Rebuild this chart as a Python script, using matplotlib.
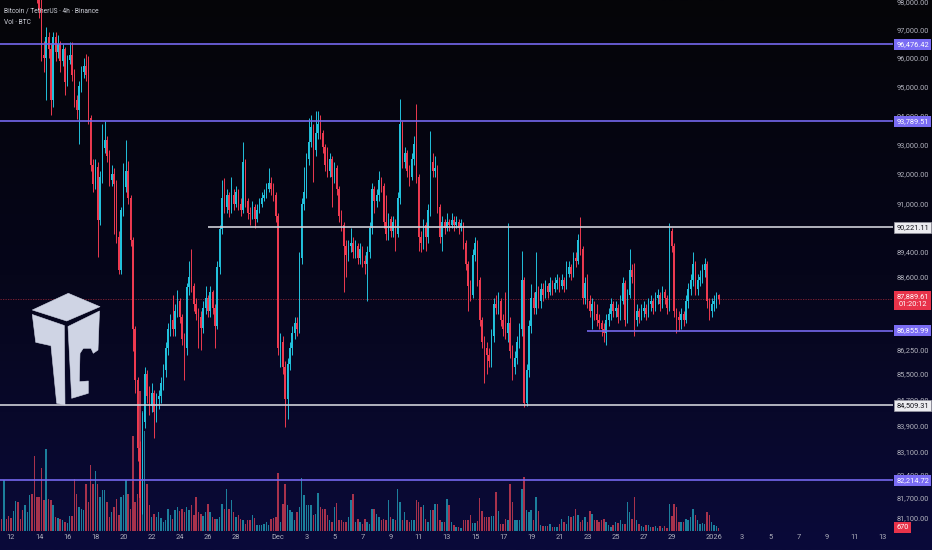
import numpy as np
import pandas as pd
import matplotlib
matplotlib.use("Agg")
import matplotlib.pyplot as plt
import matplotlib.transforms as mtransforms
from matplotlib.patches import Polygon
from matplotlib.ticker import NullLocator
from matplotlib.colors import LinearSegmentedColormap

plt.rcParams['font.family'] = ['Roboto', 'DejaVu Sans']

# ---------------- data (BTCUSDT, 4h candles) ----------------
start_time = "2025-11-11 04:00"
first_open = 105600
closes = [
    105200, 104800, 105300, 104100, 103300, 102900, 103600, 104500, 103900, 102700,
    101700, 101900, 102600, 103000, 101300, 100400, 99300, 97700, 96100, 96000,
    96750, 96300, 94530, 96750, 96200, 96500, 95900, 96300, 95150, 95930,
    96100, 95400, 94530, 94180, 95000, 95500, 95700, 95400, 93900, 92300,
    91650, 92250, 90460, 91900, 92880, 93150, 92600, 91800, 92000, 91650,
    89900, 88800, 90790, 91550, 92100, 91200, 89800, 86900, 85300, 83200,
    81700, 84000, 85500, 84800, 84500, 84900, 84300, 84700, 84800, 85200,
    85600, 86300, 86900, 87200, 86900, 87500, 87800, 87300, 86600, 86300,
    88250, 88600, 88300, 87700, 87400, 87300, 86950, 87600, 87900, 87500,
    88100, 87600, 87000, 88900, 90150, 91200, 90900, 91300, 90800, 91300,
    91000, 91400, 91000, 90800, 92400, 91100, 90700, 90650, 90900, 90500,
    90800, 91000, 91200, 91300, 91500, 91700, 91500, 91300, 90600, 86300,
    86500, 85700, 84700, 85800, 86300, 86800, 87100, 86900, 89200, 91000,
    91400, 92500, 93100, 93600, 92800, 93400, 93700, 93400, 92900, 92300,
    92100, 92500, 91900, 92200, 91500, 90600, 90300, 89600, 89300, 89600,
    89700, 89400, 89600, 89200, 89500, 89100, 89000, 89400, 90200, 91500,
    91100, 91300, 91800, 91600, 90400, 90000, 90500, 90100, 90400, 90000,
    91200, 93700, 92400, 92700, 92100, 91900, 92500, 93000, 91900, 89900,
    89700, 90300, 89900, 90800, 92400, 92100, 92200, 90900, 89900, 90400,
    90200, 90400, 90300, 90450, 90300, 90400, 90200, 90350, 89700, 89000,
    88300, 88000, 89300, 89700, 88500, 87200, 86500, 86300, 86100, 85900,
    86700, 87700, 87600, 87800, 87200, 86900, 86800, 87100, 86200, 85700,
    86000, 86500, 86900, 88500, 84600, 85600, 87000, 87900, 87600, 88100,
    87800, 88200, 88000, 88300, 88100, 88400, 88200, 88400, 88500, 88300,
    88500, 88300, 88700, 88900, 88700, 89200, 89100, 89800, 89500, 87900,
    88400, 87800, 87500, 87700, 87400, 87200, 87100, 86900, 86800, 87200,
    87400, 87700, 87500, 87600, 87300, 87800, 88400, 87200, 88000, 88800,
    88600, 87200, 87500, 87300, 87500, 87600, 87400, 87700, 87800, 87600,
    87900, 88000, 87700, 88100, 87900, 87600, 90100, 89600, 87500, 87300,
    87200, 87400, 87200, 87800, 88200, 88500, 89000, 88200, 88500, 88600,
    88800, 89000, 87800, 87500, 87700, 87800, 88000, 87889.61,
]
highs = [
    106000, 105500, 105700, 105400, 104300, 103700, 103900, 104900, 104700, 104100,
    102900, 102300, 102900, 103400, 103200, 101600, 100600, 99600, 98100, 96600,
    97100, 96900, 96500, 96900, 96900, 96800, 96600, 96500, 96400, 96100,
    96550, 96550, 95600, 94700, 95200, 95700, 96000, 96150, 96050, 94000,
    92500, 92500, 92400, 92100, 93700, 93800, 93300, 92800, 92300, 92200,
    91800, 90100, 90900, 92370, 93150, 92450, 91300, 89900, 87000, 85400,
    83400, 84300, 85700, 85600, 85100, 85200, 85000, 84900, 85000, 85400,
    85800, 86500, 87100, 87400, 88000, 87700, 88150, 87900, 87400, 86800,
    88400, 89100, 89500, 88400, 87900, 87600, 87500, 87800, 88300, 88000,
    88300, 88150, 87700, 89100, 90300, 91800, 91850, 91500, 91400, 91900,
    91500, 91600, 91500, 91200, 93100, 92500, 91200, 90900, 91100, 91000,
    91000, 91200, 91400, 91500, 91700, 92200, 91900, 91700, 91400, 90700,
    86800, 86700, 85900, 86000, 86500, 87000, 87300, 87300, 89400, 91200,
    92250, 92700, 93900, 94000, 93700, 94150, 94150, 94000, 93500, 93000,
    92900, 92700, 92600, 92400, 92300, 91600, 90800, 90400, 89800, 89800,
    90200, 89900, 89800, 89700, 89700, 89600, 89300, 89600, 90400, 91700,
    91600, 91500, 92100, 91900, 91700, 91300, 90700, 90600, 90600, 90500,
    91400, 94550, 93800, 92900, 92800, 92300, 92700, 93300, 94400, 92000,
    90100, 90500, 90400, 91000, 93450, 92700, 92600, 92300, 91000, 90600,
    90500, 90700, 90500, 90700, 90600, 90600, 90500, 90500, 90400, 89800,
    89100, 88500, 89500, 89900, 89800, 88600, 87300, 86700, 86500, 86300,
    86900, 87900, 88000, 88100, 87900, 87400, 88100, 90350, 87300, 86400,
    86200, 86700, 87100, 89450, 88600, 85800, 87200, 88350, 88100, 89400,
    88300, 88400, 88400, 88500, 88400, 88600, 88500, 88600, 88700, 88600,
    88700, 88600, 89100, 89100, 89000, 89400, 89400, 90000, 90550, 89600,
    88600, 88700, 88000, 87900, 87800, 87700, 87400, 87200, 87100, 87400,
    87600, 87900, 87800, 87800, 87700, 88000, 88600, 88500, 88200, 89500,
    89000, 89050, 87700, 87600, 87700, 87800, 87700, 87900, 88000, 87900,
    88100, 88200, 88100, 88300, 88200, 88000, 90350, 90200, 89700, 87600,
    87500, 87600, 87500, 88000, 88400, 88700, 89400, 89100, 88700, 88800,
    89000, 89200, 89100, 87900, 87900, 88000, 88100, 88050,
]
lows = [
    104900, 104400, 104600, 103800, 102900, 102500, 102600, 103400, 103600, 102400,
    101300, 101200, 101700, 102300, 101000, 99900, 97950, 97400, 95900, 95500,
    94530, 96000, 94000, 94300, 95900, 96000, 95500, 95700, 94700, 95000,
    95800, 95200, 94300, 93870, 93000, 94800, 95300, 95200, 93700, 92100,
    91400, 91500, 89250, 90300, 91700, 92700, 92400, 91600, 91600, 90000,
    89700, 88700, 88700, 90600, 91400, 91000, 89600, 86200, 84900, 82800,
    80600, 81200, 83800, 84600, 84200, 84300, 83500, 84000, 84400, 84600,
    85000, 85400, 86100, 86700, 86700, 86700, 87300, 87100, 86400, 85300,
    86100, 88000, 88100, 87500, 87200, 86300, 86250, 86800, 87400, 87300,
    87300, 87400, 86300, 86900, 88700, 90000, 90700, 90700, 90550, 90700,
    90800, 90900, 90800, 90600, 90700, 90900, 90500, 90300, 90500, 90200,
    90400, 90700, 90900, 91100, 91200, 91400, 91300, 91100, 90400, 86100,
    85700, 85500, 83850, 84100, 85600, 86100, 86600, 86700, 86800, 89000,
    90800, 91200, 92300, 92900, 91730, 92600, 93200, 93200, 92700, 92100,
    91900, 91900, 90900, 91700, 91300, 90400, 90100, 88100, 88600, 89100,
    89400, 89200, 89200, 89000, 89000, 88900, 88700, 87800, 89200, 90000,
    90700, 90900, 91100, 91400, 90200, 89800, 89800, 89900, 89900, 89450,
    89900, 91000, 92200, 92200, 91900, 91600, 91800, 92300, 91700, 89450,
    89400, 89500, 89450, 89700, 90600, 91900, 91900, 90700, 89700, 89450,
    90000, 90100, 90100, 90200, 90100, 90200, 90000, 90100, 89500, 88800,
    87500, 87800, 87900, 89100, 88300, 87000, 86300, 85200, 85500, 85700,
    85700, 86500, 87400, 87400, 87000, 86700, 86600, 86500, 86000, 85300,
    85500, 85800, 86300, 86700, 84450, 84500, 85400, 86800, 87400, 87400,
    87600, 87600, 87800, 87900, 87900, 88000, 88000, 88100, 88200, 88100,
    88200, 88100, 88200, 88600, 88500, 88600, 88900, 89000, 89300, 87700,
    87700, 87600, 87300, 86900, 87200, 87000, 86900, 86700, 86500, 86400,
    87000, 87200, 87300, 87300, 87100, 87200, 87700, 87000, 87100, 87900,
    88400, 86700, 87000, 87100, 87200, 87300, 87200, 87300, 87500, 87400,
    87500, 87700, 87500, 87600, 87700, 87400, 87500, 89400, 87300, 86800,
    86850, 86900, 87000, 87100, 87600, 88000, 88300, 88000, 88000, 88300,
    88400, 88600, 87600, 87200, 87300, 87500, 87600, 87700,
]
volumes = [
    2200, 2400, 10200, 2400, 3000, 2600, 4000, 6000, 5800, 2400,
    4200, 5200, 3800, 7200, 7400, 15000, 6800, 6800, 12600, 6200,
    16400, 6400, 6200, 5200, 2800, 2600, 2400, 2200, 1800, 1600,
    3000, 3000, 10400, 7400, 4800, 4400, 4200, 9400, 5800, 13200,
    9400, 12000, 9400, 6800, 8200, 8200, 5800, 2800, 3800, 4800,
    6400, 3200, 6800, 7200, 10200, 7400, 4400, 19000, 5800, 7400,
    28000, 24000, 20000, 9400, 5200, 2800, 3400, 2800, 3800, 2600,
    1800, 2200, 4400, 3200, 2400, 4200, 4800, 4000, 4400, 3800,
    4800, 4200, 5200, 3200, 6800, 3800, 3400, 3000, 3800, 5400,
    3800, 2800, 2400, 2400, 2800, 5400, 4400, 8400, 4400, 6200,
    3800, 2800, 3200, 2400, 2200, 1400, 2200, 2200, 3200, 2600,
    1200, 1200, 1200, 1400, 1800, 1200, 2400, 2600, 2800, 11600,
    1800, 5400, 9400, 5200, 4200, 3800, 2200, 3800, 4800, 10600,
    7200, 5200, 5200, 5200, 3200, 3400, 7600, 4800, 4400, 4400,
    3200, 2200, 1800, 4800, 5600, 2200, 2200, 1800, 1800, 2800,
    6200, 7400, 1800, 2400, 1800, 1400, 2400, 1800, 1400, 4400,
    4400, 3400, 2800, 2200, 2400, 2200, 6200, 2800, 2400, 2200,
    8400, 5800, 2200, 3800, 2200, 1800, 2200, 2200, 6200, 5800,
    4800, 5200, 2400, 1800, 4200, 4200, 5400, 5400, 2200, 1800,
    1800, 6400, 5200, 1800, 1200, 800, 800, 600, 2200, 2200,
    2200, 3200, 1600, 1600, 2000, 6600, 4000, 2800, 2800, 2800,
    3000, 3000, 7800, 4000, 1400, 1400, 2400, 2200, 9400, 5800,
    2200, 2200, 2200, 8400, 10800, 4200, 3800, 4200, 2200, 6800,
    4000, 1200, 1000, 1000, 1000, 1400, 800, 800, 800, 1400,
    2400, 1800, 1400, 3000, 2800, 3000, 4400, 3200, 1800, 2200,
    2800, 1800, 4000, 3400, 2200, 2200, 1800, 2200, 2400, 1800,
    1200, 800, 1200, 1800, 1600, 2200, 1400, 1400, 5800, 3800,
    2400, 6800, 2200, 1400, 1000, 800, 1200, 1200, 800, 800,
    1000, 600, 1000, 600, 1000, 600, 5400, 3000, 5400, 4800,
    1800, 1800, 1800, 2400, 2200, 2800, 4400, 3200, 2200, 1400,
    1600, 1400, 3800, 3200, 1800, 1200, 1000, 670,
]

price_ticks = [98000, 97000, 96000, 95000, 94000, 93000, 92000, 91000,
               89400, 88600, 87000, 86250, 85500, 84700, 83900, 83100,
               82400, 81700, 81100]
date_tick_dates = ["2025-11-12", "2025-11-14", "2025-11-16", "2025-11-18", "2025-11-20",
                   "2025-11-22", "2025-11-24", "2025-11-26", "2025-11-28", "2025-12-01",
                   "2025-12-03", "2025-12-05", "2025-12-07", "2025-12-09", "2025-12-11",
                   "2025-12-13", "2025-12-15", "2025-12-17", "2025-12-19", "2025-12-21",
                   "2025-12-23", "2025-12-25", "2025-12-27", "2025-12-29", "2026-01-01",
                   "2026-01-03", "2026-01-05", "2026-01-07", "2026-01-09", "2026-01-11",
                   "2026-01-13"]
date_tick_labels = ["12", "14", "16", "18", "20", "22", "24", "26", "28", "Dec",
                    "3", "5", "7", "9", "11", "13", "15", "17", "19", "21",
                    "23", "25", "27", "29", "2026", "3", "5", "7", "9", "11", "13"]

levels = [96476.42, 93789.51, 90221.11, 86855.99, 84509.31, 82214.72]
level_kinds = ["purple", "purple", "white", "purple", "white", "purple"]
level_starts = [None, None, "2025-11-26 00:00", "2025-12-23 00:00", None, None]

last_price = 87889.61
countdown = "01:20:12"
title_line = "Bitcoin / TetherUS \u00b7 4h \u00b7 Binance"
vol_line = "Vol \u00b7 BTC"

# ---------------- style ----------------
W, H = 932, 550
UP = "#22c1dc"
DOWN = "#ee3a50"
UP_VOL = "#1c7f9c"
DOWN_VOL = "#a8324c"
PURPLE = "#7568ee"
PURPLE_BOX = "#7a6cf4"
WHITE_LINE = "#cfd0d8"
TXT = "#b0b1bc"
FS = 5.3

t0 = pd.Timestamp(start_time)
def idx(ts):
    return (pd.Timestamp(ts) - t0) / pd.Timedelta(hours=4)

n = len(closes)
x = np.arange(n)
c = np.array(closes, dtype=float)
o = np.concatenate([[first_open], c[:-1]])
hi = np.array(highs, dtype=float)
lo = np.array(lows, dtype=float)
vol = np.array(volumes, dtype=float)
up = c >= o

fig = plt.figure(figsize=(W / 100, H / 100), dpi=100)

# background gradient
bg = fig.add_axes([0, 0, 1, 1], zorder=0)
grad = np.linspace(0, 1, 256)[:, None]
cmap = LinearSegmentedColormap.from_list("bg", ["#050508", "#06061a", "#0a0a3a"])
bg.imshow(grad, aspect="auto", cmap=cmap, extent=[0, 1, 0, 1], origin="upper")
bg.axis("off")

rect = [0, 19 / H, 893 / W, 531 / H]
axv = fig.add_axes(rect, zorder=1)
axv.patch.set_alpha(0)
ax = fig.add_axes(rect, sharex=axv, zorder=2)
ax.patch.set_alpha(0)

XL = (0.3, 381.4)
axv.set_xlim(*XL)
axv.set_ylim(0, 531 * 200)
axv.bar(x, vol, width=0.62, color=np.where(up, UP_VOL, DOWN_VOL), linewidth=0)
axv.axis("off")

ax.set_yscale("log")
ax.set_ylim(80705, 98061)
ax.set_xlim(*XL)

cols = np.where(up, UP, DOWN)
ax.vlines(x, lo, hi, colors=cols, linewidth=0.7, zorder=3)
bot = np.minimum(o, c)
top = np.maximum(o, c)
ax.bar(x, top - bot, bottom=bot, width=0.62, color=cols, linewidth=0, zorder=4)

# levels
for p, kind, st in zip(levels, level_kinds, level_starts):
    colr = PURPLE if kind == "purple" else WHITE_LINE
    xs = XL[0] if st is None else idx(st)
    ax.hlines(p, xs, XL[1], colors=colr, linewidth=1.2, zorder=5)

ax.axhline(last_price, color="#8e2536", linewidth=0.6, linestyle=(0, (1.5, 1.5)), zorder=2)

for s in ax.spines.values():
    s.set_visible(False)

# axes ticks
ax.yaxis.tick_right()
ax.yaxis.set_minor_locator(NullLocator())
ax.set_yticks(price_ticks)
ax.set_yticklabels([f"{v:,.2f}" for v in price_ticks])
ax.tick_params(axis="y", length=0, pad=2.5, labelsize=FS, labelcolor=TXT)
ax.set_xticks([idx(d) for d in date_tick_dates])
ax.set_xticklabels(date_tick_labels)
ax.tick_params(axis="x", length=0, pad=2.5, labelsize=FS, labelcolor=TXT)

trans = mtransforms.blended_transform_factory(ax.transAxes, ax.transData)
xlab = 1.0 + 3.2 / 893
for p, kind in zip(levels, level_kinds):
    if kind == "purple":
        fc, tc, ec = PURPLE_BOX, "white", "none"
    else:
        fc, tc, ec = "#ececf0", "#111118", "#9a9aa4"
    ax.text(xlab, p, f"{p:,.2f}", transform=trans, ha="left", va="center",
            fontsize=FS, color=tc, clip_on=False, zorder=10,
            bbox=dict(boxstyle="square,pad=0.28", fc=fc, ec=ec, lw=0.5))

tr_up = mtransforms.offset_copy(trans, fig=fig, x=0, y=4.2, units="points")
ax.text(xlab, last_price, f"{last_price:,.2f}\n{countdown}", transform=tr_up,
        ha="left", va="top", fontsize=FS, color="white", clip_on=False, zorder=11,
        multialignment="center", linespacing=1.35,
        bbox=dict(boxstyle="square,pad=0.28", fc="#e8334a", ec="none"))

vtrans = mtransforms.blended_transform_factory(ax.transAxes, axv.transData)
ax.text(xlab, vol[-1], f"{vol[-1]:.0f}", transform=vtrans, ha="left", va="center",
        fontsize=FS, color="white", clip_on=False, zorder=11,
        bbox=dict(boxstyle="square,pad=0.28", fc="#e8334a", ec="none"))

# header
fig.text(4 / W, 1 - 11 / H, title_line, fontsize=4.8, color="#cfd1da", va="center", ha="left")
fig.text(4 / W, 1 - 23 / H, vol_line, fontsize=4.8, color="#cfd1da", va="center", ha="left")

# logo (pixel coordinates, origin top-left)
ptr = mtransforms.Affine2D().scale(1 / W, -1 / H).translate(0, 1) + fig.transFigure
LOGO = "#cfd4e4"
top_face = [(32.3, 310), (68.3, 293.3), (100, 306.7), (66.7, 321)]
left_piece = [(32.3, 314.5), (64.3, 325.5), (65, 405), (56.7, 403.3),
              (51, 345.7), (35.7, 342.3)]
right_piece = [(68, 326.5), (99.5, 311), (98, 350), (93.3, 353.3), (91, 348.3),
               (83.3, 348.3), (80, 353.3), (79.3, 381.7), (88.3, 381), (88.3, 393.3),
               (71.7, 398.3)]
for poly in (top_face, left_piece, right_piece):
    fig.add_artist(Polygon(poly, closed=True, fc=LOGO, ec=LOGO, lw=0.4,
                           joinstyle="round", transform=ptr, zorder=20))

fig.savefig("out.png", dpi=100, facecolor="#050508")
